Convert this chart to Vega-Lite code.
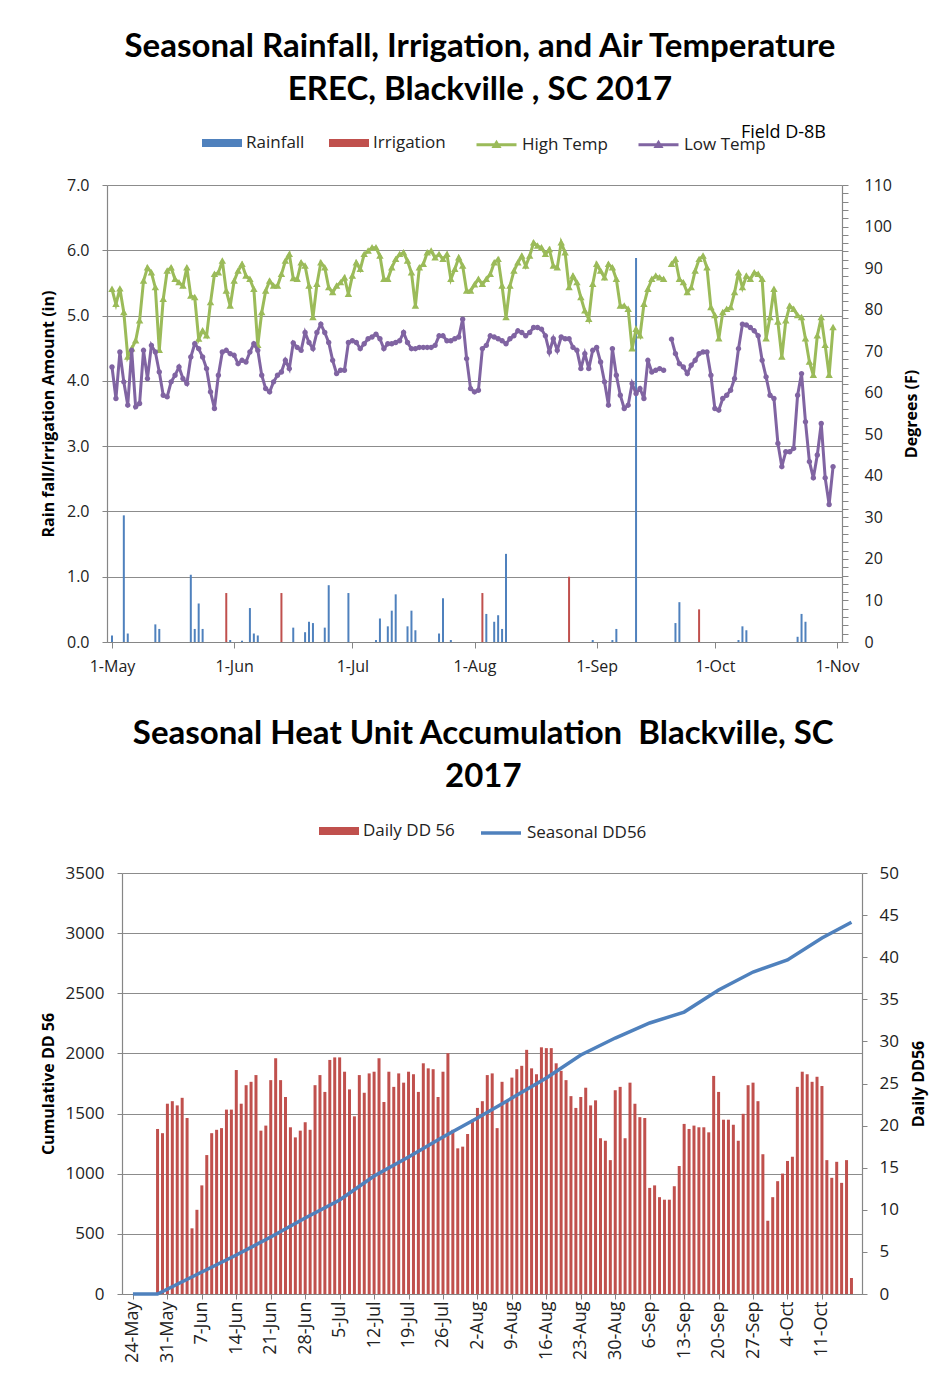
{
"$schema": "https://vega.github.io/schema/vega-lite/v6.json",
"padding": {"left": 39, "top": 31, "right": 12, "bottom": 0},
"background": "white",
"config": {
  "view": {"stroke": null},
  "axis": {"labelFont": "Open Sans", "labelFontSize": 16, "labelColor": "#222", "titleFont": "Open Sans", "titleFontWeight": "bold", "titleFontSize": 16, "titleColor": "#000", "domainColor": "#868686", "tickColor": "#868686", "gridColor": "#8c8c8c", "gridOpacity": 1, "gridWidth": 1.2, "domainWidth": 1.2, "labelFlush": false, "labelOverlap": false},
  "legend": {"labelFont": "Open Sans", "labelFontSize": 17, "labelColor": "#222"},
  "title": {"font": "Lato", "fontSize": 33, "fontWeight": "bold", "color": "#000", "lineHeight": 43, "frame": "bounds"}
},
"datasets": {
  "rain": [
    {"date": "2017/05/01", "type": "Rainfall", "amount": 0.1},
    {"date": "2017/05/04", "type": "Rainfall", "amount": 1.94},
    {"date": "2017/05/05", "type": "Rainfall", "amount": 0.13},
    {"date": "2017/05/12", "type": "Rainfall", "amount": 0.27},
    {"date": "2017/05/13", "type": "Rainfall", "amount": 0.2},
    {"date": "2017/05/21", "type": "Rainfall", "amount": 1.03},
    {"date": "2017/05/22", "type": "Rainfall", "amount": 0.2},
    {"date": "2017/05/23", "type": "Rainfall", "amount": 0.59},
    {"date": "2017/05/24", "type": "Rainfall", "amount": 0.2},
    {"date": "2017/05/30", "type": "Irrigation", "amount": 0.75},
    {"date": "2017/05/31", "type": "Rainfall", "amount": 0.03},
    {"date": "2017/06/03", "type": "Rainfall", "amount": 0.02},
    {"date": "2017/06/05", "type": "Rainfall", "amount": 0.52},
    {"date": "2017/06/06", "type": "Rainfall", "amount": 0.13},
    {"date": "2017/06/07", "type": "Rainfall", "amount": 0.1},
    {"date": "2017/06/13", "type": "Irrigation", "amount": 0.75},
    {"date": "2017/06/16", "type": "Rainfall", "amount": 0.22},
    {"date": "2017/06/19", "type": "Rainfall", "amount": 0.15},
    {"date": "2017/06/20", "type": "Rainfall", "amount": 0.31},
    {"date": "2017/06/21", "type": "Rainfall", "amount": 0.29},
    {"date": "2017/06/24", "type": "Rainfall", "amount": 0.22},
    {"date": "2017/06/25", "type": "Rainfall", "amount": 0.87},
    {"date": "2017/06/30", "type": "Rainfall", "amount": 0.75},
    {"date": "2017/07/07", "type": "Rainfall", "amount": 0.03},
    {"date": "2017/07/08", "type": "Rainfall", "amount": 0.36},
    {"date": "2017/07/10", "type": "Rainfall", "amount": 0.24},
    {"date": "2017/07/11", "type": "Rainfall", "amount": 0.48},
    {"date": "2017/07/12", "type": "Rainfall", "amount": 0.73},
    {"date": "2017/07/15", "type": "Rainfall", "amount": 0.24},
    {"date": "2017/07/16", "type": "Rainfall", "amount": 0.48},
    {"date": "2017/07/17", "type": "Rainfall", "amount": 0.18},
    {"date": "2017/07/23", "type": "Rainfall", "amount": 0.13},
    {"date": "2017/07/24", "type": "Rainfall", "amount": 0.67},
    {"date": "2017/07/26", "type": "Rainfall", "amount": 0.03},
    {"date": "2017/08/03", "type": "Irrigation", "amount": 0.75},
    {"date": "2017/08/04", "type": "Rainfall", "amount": 0.43},
    {"date": "2017/08/06", "type": "Rainfall", "amount": 0.31},
    {"date": "2017/08/07", "type": "Rainfall", "amount": 0.41},
    {"date": "2017/08/08", "type": "Rainfall", "amount": 0.2},
    {"date": "2017/08/09", "type": "Rainfall", "amount": 1.35},
    {"date": "2017/08/25", "type": "Irrigation", "amount": 1.0},
    {"date": "2017/08/31", "type": "Rainfall", "amount": 0.03},
    {"date": "2017/09/05", "type": "Rainfall", "amount": 0.03},
    {"date": "2017/09/06", "type": "Rainfall", "amount": 0.2},
    {"date": "2017/09/11", "type": "Rainfall", "amount": 5.88},
    {"date": "2017/09/21", "type": "Rainfall", "amount": 0.29},
    {"date": "2017/09/22", "type": "Rainfall", "amount": 0.61},
    {"date": "2017/09/27", "type": "Irrigation", "amount": 0.5},
    {"date": "2017/10/07", "type": "Rainfall", "amount": 0.03},
    {"date": "2017/10/08", "type": "Rainfall", "amount": 0.24},
    {"date": "2017/10/09", "type": "Rainfall", "amount": 0.18},
    {"date": "2017/10/22", "type": "Rainfall", "amount": 0.08},
    {"date": "2017/10/23", "type": "Rainfall", "amount": 0.43},
    {"date": "2017/10/24", "type": "Rainfall", "amount": 0.31}
  ],
  "temps": [
    {"date": "2017/05/01", "high": 84.9, "low": 66.2},
    {"date": "2017/05/02", "high": 81.3, "low": 58.6},
    {"date": "2017/05/03", "high": 85.0, "low": 69.8},
    {"date": "2017/05/04", "high": 79.3, "low": 62.6},
    {"date": "2017/05/05", "high": 68.6, "low": 57.0},
    {"date": "2017/05/06", "high": 70.6, "low": 70.2},
    {"date": "2017/05/07", "high": 72.5, "low": 56.6},
    {"date": "2017/05/08", "high": 77.3, "low": 57.4},
    {"date": "2017/05/09", "high": 86.9, "low": 70.2},
    {"date": "2017/05/10", "high": 90.1, "low": 63.4},
    {"date": "2017/05/11", "high": 88.9, "low": 71.4},
    {"date": "2017/05/12", "high": 85.3, "low": 69.8},
    {"date": "2017/05/13", "high": 70.2, "low": 65.0},
    {"date": "2017/05/14", "high": 82.5, "low": 59.4},
    {"date": "2017/05/15", "high": 89.3, "low": 59.0},
    {"date": "2017/05/16", "high": 90.1, "low": 62.6},
    {"date": "2017/05/17", "high": 87.3, "low": 64.2},
    {"date": "2017/05/18", "high": 86.5, "low": 66.2},
    {"date": "2017/05/19", "high": 85.7, "low": 63.4},
    {"date": "2017/05/20", "high": 90.1, "low": 62.2},
    {"date": "2017/05/21", "high": 83.3, "low": 68.6},
    {"date": "2017/05/22", "high": 82.9, "low": 71.8},
    {"date": "2017/05/23", "high": 72.9, "low": 70.6},
    {"date": "2017/05/24", "high": 74.9, "low": 68.6},
    {"date": "2017/05/25", "high": 73.7, "low": 65.8},
    {"date": "2017/05/26", "high": 81.7, "low": 60.2},
    {"date": "2017/05/27", "high": 88.5, "low": 56.2},
    {"date": "2017/05/28", "high": 88.9, "low": 64.2},
    {"date": "2017/05/29", "high": 91.7, "low": 69.8},
    {"date": "2017/05/30", "high": 84.5, "low": 70.2},
    {"date": "2017/05/31", "high": 80.9, "low": 69.4},
    {"date": "2017/06/01", "high": 86.9, "low": 69.0},
    {"date": "2017/06/02", "high": 89.3, "low": 67.0},
    {"date": "2017/06/03", "high": 90.9, "low": 67.8},
    {"date": "2017/06/04", "high": 88.1, "low": 67.4},
    {"date": "2017/06/05", "high": 87.3, "low": 69.8},
    {"date": "2017/06/06", "high": 84.9, "low": 71.8},
    {"date": "2017/06/07", "high": 71.4, "low": 70.2},
    {"date": "2017/06/08", "high": 79.3, "low": 64.2},
    {"date": "2017/06/09", "high": 84.5, "low": 61.0},
    {"date": "2017/06/10", "high": 86.9, "low": 60.2},
    {"date": "2017/06/11", "high": 85.7, "low": 62.6},
    {"date": "2017/06/12", "high": 85.7, "low": 64.2},
    {"date": "2017/06/13", "high": 88.5, "low": 65.0},
    {"date": "2017/06/14", "high": 91.7, "low": 67.8},
    {"date": "2017/06/15", "high": 93.3, "low": 65.8},
    {"date": "2017/06/16", "high": 87.5, "low": 72.0},
    {"date": "2017/06/17", "high": 87.3, "low": 70.9},
    {"date": "2017/06/18", "high": 91.3, "low": 70.2},
    {"date": "2017/06/19", "high": 90.5, "low": 74.5},
    {"date": "2017/06/20", "high": 85.7, "low": 72.1},
    {"date": "2017/06/21", "high": 78.1, "low": 70.6},
    {"date": "2017/06/22", "high": 86.1, "low": 74.5},
    {"date": "2017/06/23", "high": 91.3, "low": 76.5},
    {"date": "2017/06/24", "high": 90.1, "low": 74.5},
    {"date": "2017/06/25", "high": 85.3, "low": 72.1},
    {"date": "2017/06/26", "high": 84.1, "low": 67.8},
    {"date": "2017/06/27", "high": 85.7, "low": 64.6},
    {"date": "2017/06/28", "high": 86.5, "low": 65.4},
    {"date": "2017/06/29", "high": 87.7, "low": 65.4},
    {"date": "2017/06/30", "high": 83.7, "low": 72.1},
    {"date": "2017/07/01", "high": 88.1, "low": 72.5},
    {"date": "2017/07/02", "high": 91.3, "low": 72.1},
    {"date": "2017/07/03", "high": 89.7, "low": 70.6},
    {"date": "2017/07/04", "high": 93.3, "low": 71.8},
    {"date": "2017/07/05", "high": 94.1, "low": 73.0},
    {"date": "2017/07/06", "high": 94.9, "low": 73.4},
    {"date": "2017/07/07", "high": 94.9, "low": 74.1},
    {"date": "2017/07/08", "high": 92.9, "low": 73.0},
    {"date": "2017/07/09", "high": 87.3, "low": 70.6},
    {"date": "2017/07/10", "high": 87.3, "low": 71.8},
    {"date": "2017/07/11", "high": 90.1, "low": 71.8},
    {"date": "2017/07/12", "high": 92.1, "low": 72.1},
    {"date": "2017/07/13", "high": 93.3, "low": 72.5},
    {"date": "2017/07/14", "high": 93.7, "low": 74.5},
    {"date": "2017/07/15", "high": 91.7, "low": 72.1},
    {"date": "2017/07/16", "high": 88.9, "low": 70.6},
    {"date": "2017/07/17", "high": 80.9, "low": 70.6},
    {"date": "2017/07/18", "high": 90.1, "low": 70.9},
    {"date": "2017/07/19", "high": 90.9, "low": 70.9},
    {"date": "2017/07/20", "high": 93.7, "low": 70.9},
    {"date": "2017/07/21", "high": 94.1, "low": 70.9},
    {"date": "2017/07/22", "high": 92.5, "low": 71.4},
    {"date": "2017/07/23", "high": 93.3, "low": 73.7},
    {"date": "2017/07/24", "high": 92.1, "low": 73.7},
    {"date": "2017/07/25", "high": 93.3, "low": 72.5},
    {"date": "2017/07/26", "high": 87.3, "low": 72.5},
    {"date": "2017/07/27", "high": 89.7, "low": 73.0},
    {"date": "2017/07/28", "high": 92.5, "low": 73.4},
    {"date": "2017/07/29", "high": 90.5, "low": 77.7},
    {"date": "2017/07/30", "high": 84.5, "low": 68.2},
    {"date": "2017/07/31", "high": 84.5, "low": 61.0},
    {"date": "2017/08/01", "high": 86.0, "low": 60.2},
    {"date": "2017/08/02", "high": 87.3, "low": 60.6},
    {"date": "2017/08/03", "high": 86.1, "low": 70.6},
    {"date": "2017/08/04", "high": 87.3, "low": 71.4},
    {"date": "2017/08/05", "high": 88.5, "low": 73.7},
    {"date": "2017/08/06", "high": 91.3, "low": 73.4},
    {"date": "2017/08/07", "high": 92.1, "low": 73.0},
    {"date": "2017/08/08", "high": 85.7, "low": 72.5},
    {"date": "2017/08/09", "high": 78.1, "low": 71.8},
    {"date": "2017/08/10", "high": 85.7, "low": 73.0},
    {"date": "2017/08/11", "high": 89.3, "low": 73.7},
    {"date": "2017/08/12", "high": 91.3, "low": 74.9},
    {"date": "2017/08/13", "high": 92.9, "low": 74.5},
    {"date": "2017/08/14", "high": 90.5, "low": 73.7},
    {"date": "2017/08/15", "high": 92.9, "low": 74.5},
    {"date": "2017/08/16", "high": 96.1, "low": 75.7},
    {"date": "2017/08/17", "high": 95.3, "low": 75.7},
    {"date": "2017/08/18", "high": 94.9, "low": 75.3},
    {"date": "2017/08/19", "high": 93.3, "low": 73.7},
    {"date": "2017/08/20", "high": 94.5, "low": 69.8},
    {"date": "2017/08/21", "high": 90.5, "low": 73.0},
    {"date": "2017/08/22", "high": 90.1, "low": 70.2},
    {"date": "2017/08/23", "high": 96.1, "low": 73.4},
    {"date": "2017/08/24", "high": 93.7, "low": 73.0},
    {"date": "2017/08/25", "high": 85.3, "low": 73.0},
    {"date": "2017/08/26", "high": 88.1, "low": 70.9},
    {"date": "2017/08/27", "high": 86.5, "low": 70.2},
    {"date": "2017/08/28", "high": 82.9, "low": 65.8},
    {"date": "2017/08/29", "high": 79.7, "low": 69.4},
    {"date": "2017/08/30", "high": 77.7, "low": 65.8},
    {"date": "2017/08/31", "high": 86.1, "low": 70.2},
    {"date": "2017/09/01", "high": 90.9, "low": 70.9},
    {"date": "2017/09/02", "high": 89.3, "low": 67.4},
    {"date": "2017/09/03", "high": 87.7, "low": 62.6},
    {"date": "2017/09/04", "high": 90.9, "low": 57.0},
    {"date": "2017/09/05", "high": 90.1, "low": 70.6},
    {"date": "2017/09/06", "high": 87.3, "low": 64.2},
    {"date": "2017/09/07", "high": 80.9, "low": 59.4},
    {"date": "2017/09/08", "high": 80.9, "low": 56.2},
    {"date": "2017/09/09", "high": 80.1, "low": 57.0},
    {"date": "2017/09/10", "high": 70.6, "low": 62.2},
    {"date": "2017/09/11", "high": 75.3, "low": 59.8},
    {"date": "2017/09/12", "high": 73.7, "low": 61.0},
    {"date": "2017/09/13", "high": 81.3, "low": 58.6},
    {"date": "2017/09/14", "high": 84.9, "low": 67.8},
    {"date": "2017/09/15", "high": 87.3, "low": 65.0},
    {"date": "2017/09/16", "high": 88.1, "low": 65.4},
    {"date": "2017/09/17", "high": 87.7, "low": 65.8},
    {"date": "2017/09/18", "high": 87.3, "low": 65.4},
    {"date": "2017/09/19", "high": null, "low": null},
    {"date": "2017/09/20", "high": 90.9, "low": 72.9},
    {"date": "2017/09/21", "high": 92.1, "low": 69.4},
    {"date": "2017/09/22", "high": 87.3, "low": 67.0},
    {"date": "2017/09/23", "high": 86.5, "low": 66.2},
    {"date": "2017/09/24", "high": 84.1, "low": 64.6},
    {"date": "2017/09/25", "high": 85.3, "low": 66.6},
    {"date": "2017/09/26", "high": 89.3, "low": 67.8},
    {"date": "2017/09/27", "high": 92.1, "low": 69.4},
    {"date": "2017/09/28", "high": 92.9, "low": 69.8},
    {"date": "2017/09/29", "high": 90.1, "low": 69.8},
    {"date": "2017/09/30", "high": 80.5, "low": 64.2},
    {"date": "2017/10/01", "high": 78.6, "low": 56.2},
    {"date": "2017/10/02", "high": 73.0, "low": 55.8},
    {"date": "2017/10/03", "high": 79.3, "low": 58.6},
    {"date": "2017/10/04", "high": 80.1, "low": 59.4},
    {"date": "2017/10/05", "high": 80.5, "low": 60.6},
    {"date": "2017/10/06", "high": 84.1, "low": 63.4},
    {"date": "2017/10/07", "high": 88.9, "low": 70.6},
    {"date": "2017/10/08", "high": 85.3, "low": 76.5},
    {"date": "2017/10/09", "high": 88.1, "low": 76.3},
    {"date": "2017/10/10", "high": 87.3, "low": 75.7},
    {"date": "2017/10/11", "high": 88.9, "low": 74.9},
    {"date": "2017/10/12", "high": 88.5, "low": 73.7},
    {"date": "2017/10/13", "high": 87.3, "low": 67.8},
    {"date": "2017/10/14", "high": 73.0, "low": 63.8},
    {"date": "2017/10/15", "high": 78.1, "low": 59.4},
    {"date": "2017/10/16", "high": 84.9, "low": 58.6},
    {"date": "2017/10/17", "high": 77.0, "low": 47.8},
    {"date": "2017/10/18", "high": 68.6, "low": 42.2},
    {"date": "2017/10/19", "high": 77.3, "low": 45.8},
    {"date": "2017/10/20", "high": 80.9, "low": 45.8},
    {"date": "2017/10/21", "high": 80.1, "low": 46.6},
    {"date": "2017/10/22", "high": 78.6, "low": 59.4},
    {"date": "2017/10/23", "high": 78.1, "low": 64.6},
    {"date": "2017/10/24", "high": 73.0, "low": 53.0},
    {"date": "2017/10/25", "high": 67.4, "low": 43.4},
    {"date": "2017/10/26", "high": 64.2, "low": 39.5},
    {"date": "2017/10/27", "high": 73.7, "low": 45.0},
    {"date": "2017/10/28", "high": 78.1, "low": 52.6},
    {"date": "2017/10/29", "high": 71.4, "low": 39.5},
    {"date": "2017/10/30", "high": 64.2, "low": 33.1},
    {"date": "2017/10/31", "high": 75.7, "low": 42.2}
  ],
  "daily": [
    {"date": "2017/05/29", "dd": 19.6}, {"date": "2017/05/30", "dd": 19.1}, {"date": "2017/05/31", "dd": 22.6},
    {"date": "2017/06/01", "dd": 22.9}, {"date": "2017/06/02", "dd": 22.4}, {"date": "2017/06/03", "dd": 23.3}, {"date": "2017/06/04", "dd": 20.9}, {"date": "2017/06/05", "dd": 7.8}, {"date": "2017/06/06", "dd": 10.0}, {"date": "2017/06/07", "dd": 12.9}, {"date": "2017/06/08", "dd": 16.5}, {"date": "2017/06/09", "dd": 19.1}, {"date": "2017/06/10", "dd": 19.5}, {"date": "2017/06/11", "dd": 19.7}, {"date": "2017/06/12", "dd": 21.9}, {"date": "2017/06/13", "dd": 21.9}, {"date": "2017/06/14", "dd": 26.6}, {"date": "2017/06/15", "dd": 22.6}, {"date": "2017/06/16", "dd": 24.8}, {"date": "2017/06/17", "dd": 25.2}, {"date": "2017/06/18", "dd": 26.0}, {"date": "2017/06/19", "dd": 19.4}, {"date": "2017/06/20", "dd": 20.0}, {"date": "2017/06/21", "dd": 25.4}, {"date": "2017/06/22", "dd": 28.0}, {"date": "2017/06/23", "dd": 25.4}, {"date": "2017/06/24", "dd": 23.4}, {"date": "2017/06/25", "dd": 19.8}, {"date": "2017/06/26", "dd": 18.6}, {"date": "2017/06/27", "dd": 19.4}, {"date": "2017/06/28", "dd": 20.4}, {"date": "2017/06/29", "dd": 19.5}, {"date": "2017/06/30", "dd": 24.8},
    {"date": "2017/07/01", "dd": 26.0}, {"date": "2017/07/02", "dd": 24.0}, {"date": "2017/07/03", "dd": 27.8}, {"date": "2017/07/04", "dd": 28.1}, {"date": "2017/07/05", "dd": 28.1}, {"date": "2017/07/06", "dd": 26.4}, {"date": "2017/07/07", "dd": 24.3}, {"date": "2017/07/08", "dd": 21.1}, {"date": "2017/07/09", "dd": 26.0}, {"date": "2017/07/10", "dd": 23.9}, {"date": "2017/07/11", "dd": 26.2}, {"date": "2017/07/12", "dd": 26.4}, {"date": "2017/07/13", "dd": 28.0}, {"date": "2017/07/14", "dd": 22.8}, {"date": "2017/07/15", "dd": 26.4}, {"date": "2017/07/16", "dd": 24.6}, {"date": "2017/07/17", "dd": 26.2}, {"date": "2017/07/18", "dd": 25.1}, {"date": "2017/07/19", "dd": 26.4}, {"date": "2017/07/20", "dd": 26.1}, {"date": "2017/07/21", "dd": 24.0}, {"date": "2017/07/22", "dd": 27.4}, {"date": "2017/07/23", "dd": 26.8}, {"date": "2017/07/24", "dd": 26.7}, {"date": "2017/07/25", "dd": 23.4}, {"date": "2017/07/26", "dd": 26.4}, {"date": "2017/07/27", "dd": 28.6}, {"date": "2017/07/28", "dd": 19.5}, {"date": "2017/07/29", "dd": 17.3}, {"date": "2017/07/30", "dd": 17.5}, {"date": "2017/07/31", "dd": 19.0},
    {"date": "2017/08/01", "dd": 20.7}, {"date": "2017/08/02", "dd": 22.1}, {"date": "2017/08/03", "dd": 22.9}, {"date": "2017/08/04", "dd": 26.0}, {"date": "2017/08/05", "dd": 26.2}, {"date": "2017/08/06", "dd": 19.7}, {"date": "2017/08/07", "dd": 25.2}, {"date": "2017/08/08", "dd": 23.0}, {"date": "2017/08/09", "dd": 25.7}, {"date": "2017/08/10", "dd": 26.7}, {"date": "2017/08/11", "dd": 27.1}, {"date": "2017/08/12", "dd": 29.0}, {"date": "2017/08/13", "dd": 26.8}, {"date": "2017/08/14", "dd": 26.1}, {"date": "2017/08/15", "dd": 29.3}, {"date": "2017/08/16", "dd": 29.2}, {"date": "2017/08/17", "dd": 29.2}, {"date": "2017/08/18", "dd": 27.4}, {"date": "2017/08/19", "dd": 26.5}, {"date": "2017/08/20", "dd": 25.4}, {"date": "2017/08/21", "dd": 23.5}, {"date": "2017/08/22", "dd": 22.1}, {"date": "2017/08/23", "dd": 23.4}, {"date": "2017/08/24", "dd": 24.5}, {"date": "2017/08/25", "dd": 22.4}, {"date": "2017/08/26", "dd": 23.0}, {"date": "2017/08/27", "dd": 18.5}, {"date": "2017/08/28", "dd": 18.2}, {"date": "2017/08/29", "dd": 15.9}, {"date": "2017/08/30", "dd": 24.2}, {"date": "2017/08/31", "dd": 24.6},
    {"date": "2017/09/01", "dd": 18.5}, {"date": "2017/09/02", "dd": 25.1}, {"date": "2017/09/03", "dd": 22.6}, {"date": "2017/09/04", "dd": 21.0}, {"date": "2017/09/05", "dd": 20.9}, {"date": "2017/09/06", "dd": 12.6}, {"date": "2017/09/07", "dd": 12.9}, {"date": "2017/09/08", "dd": 11.5}, {"date": "2017/09/09", "dd": 11.2}, {"date": "2017/09/10", "dd": 11.2}, {"date": "2017/09/11", "dd": 12.8}, {"date": "2017/09/12", "dd": 15.2}, {"date": "2017/09/13", "dd": 20.2}, {"date": "2017/09/14", "dd": 19.6}, {"date": "2017/09/15", "dd": 20.0}, {"date": "2017/09/16", "dd": 19.8}, {"date": "2017/09/17", "dd": 19.8}, {"date": "2017/09/18", "dd": 19.2}, {"date": "2017/09/19", "dd": 25.9}, {"date": "2017/09/20", "dd": 24.0}, {"date": "2017/09/21", "dd": 20.7}, {"date": "2017/09/22", "dd": 20.7}, {"date": "2017/09/23", "dd": 20.1}, {"date": "2017/09/24", "dd": 18.2}, {"date": "2017/09/25", "dd": 21.4}, {"date": "2017/09/26", "dd": 24.8}, {"date": "2017/09/27", "dd": 25.1}, {"date": "2017/09/28", "dd": 22.9}, {"date": "2017/09/29", "dd": 16.6}, {"date": "2017/09/30", "dd": 8.7},
    {"date": "2017/10/01", "dd": 11.5}, {"date": "2017/10/02", "dd": 13.4}, {"date": "2017/10/03", "dd": 14.3}, {"date": "2017/10/04", "dd": 15.8}, {"date": "2017/10/05", "dd": 16.3}, {"date": "2017/10/06", "dd": 24.6}, {"date": "2017/10/07", "dd": 26.4}, {"date": "2017/10/08", "dd": 26.1}, {"date": "2017/10/09", "dd": 25.2}, {"date": "2017/10/10", "dd": 25.8}, {"date": "2017/10/11", "dd": 24.7}, {"date": "2017/10/12", "dd": 15.9}, {"date": "2017/10/13", "dd": 13.8}, {"date": "2017/10/14", "dd": 15.7}, {"date": "2017/10/15", "dd": 13.2}, {"date": "2017/10/16", "dd": 15.9}, {"date": "2017/10/17", "dd": 1.9}
  ],
  "cum": [
    {"date": "2017/05/24", "cum": 0}, {"date": "2017/05/29", "cum": 0}, {"date": "2017/06/07", "cum": 183}, {"date": "2017/06/14", "cum": 324}, {"date": "2017/06/21", "cum": 474}, {"date": "2017/06/28", "cum": 632}, {"date": "2017/07/05", "cum": 781}, {"date": "2017/07/12", "cum": 981}, {"date": "2017/07/19", "cum": 1139}, {"date": "2017/07/26", "cum": 1305}, {"date": "2017/08/02", "cum": 1463}, {"date": "2017/08/09", "cum": 1629}, {"date": "2017/08/16", "cum": 1796}, {"date": "2017/08/23", "cum": 1987}, {"date": "2017/08/30", "cum": 2128}, {"date": "2017/09/06", "cum": 2253}, {"date": "2017/09/13", "cum": 2344}, {"date": "2017/09/20", "cum": 2527}, {"date": "2017/09/27", "cum": 2677}, {"date": "2017/10/04", "cum": 2777}, {"date": "2017/10/11", "cum": 2960}, {"date": "2017/10/17", "cum": 3090}
  ]
},
"vconcat": [
  {"hconcat": [
    {"width": 1, "height": 1, "data": {"values": []}, "mark": "point", "encoding": {}},
    {
      "width": 735, "height": 457,
      "title": {"text": ["Seasonal Rainfall, Irrigation, and Air Temperature", "EREC, Blackville , SC 2017"], "anchor": "middle", "offset": 16},
      "encoding": {
        "x": {"field": "date", "type": "temporal",
          "scale": {"domain": [{"year": 2017, "month": 5, "date": 1}, {"year": 2017, "month": 11, "date": 1}]},
          "axis": {"title": null, "format": "%-d-%b", "labelAngle": 0, "grid": false, "tickSize": 6, "labelPadding": 10,
            "values": [{"year": 2017, "month": 5, "date": 1}, {"year": 2017, "month": 6, "date": 1}, {"year": 2017, "month": 7, "date": 1}, {"year": 2017, "month": 8, "date": 1}, {"year": 2017, "month": 9, "date": 1}, {"year": 2017, "month": 10, "date": 1}, {"year": 2017, "month": 11, "date": 1}]}}
      },
      "layer": [
        {
          "data": {"name": "rain"},
          "mark": {"type": "bar", "width": 2},
          "encoding": {
            "y": {"field": "amount", "type": "quantitative", "scale": {"domain": [0, 7], "nice": false},
              "axis": {"title": "Rain fall/Irrigation Amount (in)", "values": [0, 1, 2, 3, 4, 5, 6, 7], "format": ".1f", "grid": true, "tickSize": 5, "labelPadding": 13, "titlePadding": 10, "labelOverlap": false}},
            "color": {"field": "type", "type": "nominal",
              "scale": {"domain": ["Rainfall", "Irrigation"], "range": ["#4F81BD", "#C0504D"]},
              "legend": {"orient": "none", "legendX": 95, "legendY": -62, "direction": "horizontal", "title": null,
                "symbolType": "M-1,-0.2L1,-0.2L1,0.2L-1,0.2Z", "symbolSize": 1600, "symbolStrokeWidth": 0, "labelOffset": 4, "columnPadding": 24}
            }
          }
        },
        {
          "data": {"name": "temps"},
          "layer": [
            {
              "mark": {"type": "line", "strokeWidth": 3, "invalid": "break-paths-show-domains", "point": {"filled": true, "shape": "triangle-up", "size": 16, "color": "#9BBB59"}},
              "encoding": {
                "y": {"field": "high", "type": "quantitative", "scale": {"domain": [0, 110], "nice": false},
                  "axis": {"orient": "right", "title": "Degrees (F)", "values": [0, 2, 4, 6, 8, 10, 12, 14, 16, 18, 20, 22, 24, 26, 28, 30, 32, 34, 36, 38, 40, 42, 44, 46, 48, 50, 52, 54, 56, 58, 60, 62, 64, 66, 68, 70, 72, 74, 76, 78, 80, 82, 84, 86, 88, 90, 92, 94, 96, 98, 100, 102, 104, 106, 108, 110],
                    "tickCount": 100, "labelExpr": "datum.value % 10 === 0 ? datum.label : ''", "labelOverlap": false, "grid": false, "tickSize": 6, "labelPadding": 16, "titleAngle": 270, "titleBaseline": "top", "titlePadding": 12}},
                "stroke": {"datum": "High Temp",
                  "scale": {"domain": ["High Temp", "Low Temp"], "range": ["#9BBB59", "#8064A2"]},
                  "legend": {"orient": "none", "legendX": 368, "legendY": -62, "direction": "horizontal",
                    "title": "Field D-8B", "titleOrient": "right", "titlePadding": -25, "titleFont": "Open Sans", "titleFontSize": 18, "titleFontWeight": "normal", "titleColor": "#000", "titleBaseline": "alphabetic",
                    "symbolType": "M-1,0L1,0M-0.12,0.09L0,-0.11L0.12,0.09Z", "symbolSize": 1600, "symbolStrokeWidth": 3, "labelOffset": 4, "columnPadding": 24}}
              }
            },
            {
              "mark": {"type": "line", "strokeWidth": 3, "invalid": "break-paths-show-domains", "point": {"filled": true, "shape": "circle", "size": 12, "color": "#8064A2"}},
              "encoding": {
                "y": {"field": "low", "type": "quantitative"},
                "stroke": {"datum": "Low Temp"}
              }
            }
          ]
        }
      ],
      "resolve": {"scale": {"y": "independent"}}
    }
  ], "spacing": 0, "resolve": {"scale": {"color": "independent", "stroke": "independent"}}},
  {"hconcat": [
    {"width": 1, "height": 1, "data": {"values": []}, "mark": "point", "encoding": {}},
    {
      "width": 740, "height": 421,
      "title": {"text": ["Seasonal Heat Unit Accumulation\u00a0 Blackville, SC", "2017"], "anchor": "middle", "offset": 17},
      "encoding": {
        "x": {"field": "date", "type": "temporal",
          "scale": {"domain": [{"year": 2017, "month": 5, "date": 22, "hours": 19}, {"year": 2017, "month": 10, "date": 18, "hours": 3}]},
          "axis": {"title": null, "format": "%-d-%b", "labelAngle": 270, "labelAlign": "right", "labelBaseline": "middle", "labelFontSize": 18, "grid": false, "tickSize": 5, "labelPadding": 2,
            "values": [{"year": 2017, "month": 5, "date": 24}, {"year": 2017, "month": 5, "date": 31}, {"year": 2017, "month": 6, "date": 7}, {"year": 2017, "month": 6, "date": 14}, {"year": 2017, "month": 6, "date": 21}, {"year": 2017, "month": 6, "date": 28}, {"year": 2017, "month": 7, "date": 5}, {"year": 2017, "month": 7, "date": 12}, {"year": 2017, "month": 7, "date": 19}, {"year": 2017, "month": 7, "date": 26}, {"year": 2017, "month": 8, "date": 2}, {"year": 2017, "month": 8, "date": 9}, {"year": 2017, "month": 8, "date": 16}, {"year": 2017, "month": 8, "date": 23}, {"year": 2017, "month": 8, "date": 30}, {"year": 2017, "month": 9, "date": 6}, {"year": 2017, "month": 9, "date": 13}, {"year": 2017, "month": 9, "date": 20}, {"year": 2017, "month": 9, "date": 27}, {"year": 2017, "month": 10, "date": 4}, {"year": 2017, "month": 10, "date": 11}]}}
      },
      "layer": [
        {
          "data": {"name": "daily"},
          "mark": {"type": "bar", "width": 3},
          "encoding": {
            "y": {"field": "dd", "type": "quantitative", "scale": {"domain": [0, 50], "nice": false},
              "axis": {"orient": "right", "title": "Daily DD56", "values": [0, 5, 10, 15, 20, 25, 30, 35, 40, 45, 50], "tickCount": 20, "format": "d", "labelFontSize": 17, "grid": false, "tickSize": 5, "labelPadding": 12, "titleAngle": 270, "titleBaseline": "top", "titlePadding": 12}},
            "color": {"datum": "Daily DD 56",
              "scale": {"domain": ["Daily DD 56"], "range": ["#C0504D"]},
              "legend": {"orient": "none", "legendX": 197, "legendY": -62, "direction": "horizontal", "title": null,
                "symbolType": "M-1,-0.2L1,-0.2L1,0.2L-1,0.2Z", "symbolSize": 1600, "symbolStrokeWidth": 0, "labelOffset": 4}
            }
          }
        },
        {
          "data": {"name": "cum"},
          "mark": {"type": "line", "strokeWidth": 3.5},
          "encoding": {
            "y": {"field": "cum", "type": "quantitative", "scale": {"domain": [0, 3500], "nice": false},
              "axis": {"orient": "left", "title": "Cumulative DD 56", "values": [0, 500, 1000, 1500, 2000, 2500, 3000, 3500], "format": "d", "labelFontSize": 17, "grid": true, "tickSize": 5, "labelPadding": 13, "titlePadding": 9}},
            "stroke": {"datum": "Seasonal DD56",
              "scale": {"domain": ["Seasonal DD56"], "range": ["#4F81BD"]},
              "legend": {"orient": "none", "legendX": 357, "legendY": -62, "direction": "horizontal", "title": null,
                "symbolType": "M-1,0L1,0", "symbolSize": 1600, "symbolStrokeWidth": 3.5, "labelOffset": 4}}
          }
        }
      ],
      "resolve": {"scale": {"y": "independent"}}
    }
  ], "spacing": 0, "resolve": {"scale": {"color": "independent", "stroke": "independent"}}}
],
"spacing": 44,
"resolve": {"scale": {"color": "independent", "stroke": "independent"}}
}
